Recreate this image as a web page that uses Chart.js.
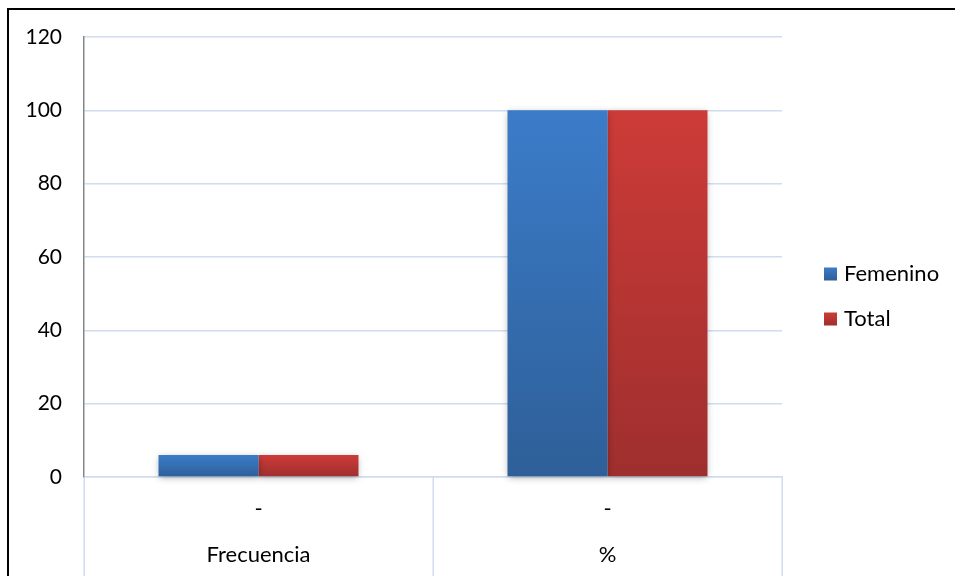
<!DOCTYPE html>
<html>
<head>
<meta charset="utf-8">
<script src="https://cdn.jsdelivr.net/npm/chart.js@4.4.1/dist/chart.umd.min.js"></script>
<style>
  html, body { margin: 0; padding: 0; background: #fff; }
  #wrap { width: 955px; height: 576px; position: relative; }
</style>
</head>
<body>
<div id="wrap"><canvas id="c" width="955" height="576"></canvas></div>
<script>
// Data
const categories = ['Frecuencia', '%'];
const subLabels = ['-', '-'];
const seriesNames = ['Femenino', 'Total'];
const femenino = [6, 100];
const total = [6, 100];
const yMin = 0, yMax = 120, yStep = 20;

// Styling
const FONT = 'Lato, "Open Sans", sans-serif';
const GRID = '#d0dcef';
const blueTop = '#3b7cc9', blueBottom = '#2e5f98';
const redTop = '#cd3b38', redBottom = '#9e2f2e';

// vertical gradient spanning each bar from its value down to zero
function barGradient(top, bottom) {
  return (ctx) => {
    const chart = ctx.chart;
    if (!chart.chartArea || ctx.type !== 'data') return top;
    const ys = chart.scales.y;
    const y0 = ys.getPixelForValue(ctx.raw);
    const y1 = ys.getPixelForValue(0);
    const g = chart.ctx.createLinearGradient(0, y0, 0, y1);
    g.addColorStop(0, top);
    g.addColorStop(1, bottom);
    return g;
  };
}

// outer frame of the chart box
const frame = {
  id: 'frame',
  beforeDraw(chart) {
    const c = chart.ctx;
    c.save();
    c.fillStyle = '#fff';
    c.fillRect(0, 0, chart.width, chart.height);
    c.strokeStyle = '#000';
    c.lineWidth = 2;
    c.beginPath();
    c.moveTo(8, chart.height);
    c.lineTo(8, 9);
    c.lineTo(chart.width, 9);
    c.stroke();
    c.restore();
  }
};

// soft drop shadow under the bars
const barShadow = {
  id: 'barShadow',
  beforeDatasetsDraw(chart) {
    const c = chart.ctx;
    c.save();
    c.shadowColor = 'rgba(0,0,0,0.32)';
    c.shadowBlur = 7;
    c.shadowOffsetX = 0;
    c.shadowOffsetY = 2;
  },
  afterDatasetsDraw(chart) {
    chart.ctx.restore();
  }
};

// category separators running down through the label rows
const categoryDividers = {
  id: 'categoryDividers',
  afterDraw(chart) {
    const c = chart.ctx;
    const area = chart.chartArea;
    const n = chart.data.labels.length;
    const step = (area.right - area.left) / n;
    c.save();
    c.strokeStyle = GRID;
    c.lineWidth = 1.5;
    c.beginPath();
    for (let i = 0; i <= n; i++) {
      const x = Math.round(area.left + i * step) + 0.25;
      c.moveTo(x, area.bottom);
      c.lineTo(x, chart.height);
    }
    c.stroke();
    c.restore();
  }
};

// legend on the right
const sideLegend = {
  id: 'sideLegend',
  afterDraw(chart) {
    const c = chart.ctx;
    const area = chart.chartArea;
    const x0 = area.right + 42;
    const yFirst = area.bottom - 203;
    c.save();
    c.font = '22px ' + FONT;
    c.textBaseline = 'middle';
    c.textAlign = 'left';
    chart.data.datasets.forEach((ds, i) => {
      const yc = yFirst + i * 45;
      const g = c.createLinearGradient(0, yc - 6.5, 0, yc + 6.5);
      g.addColorStop(0, ds.legendTop);
      g.addColorStop(1, ds.legendBottom);
      c.fillStyle = g;
      c.fillRect(x0, yc - 6.5, 13, 13);
      c.fillStyle = '#000';
      c.fillText(ds.label, x0 + 20, yc);
    });
    c.restore();
  }
};

const chart = new Chart(document.getElementById('c'), {
  type: 'bar',
  data: {
    labels: categories.map((c, i) => [subLabels[i], c]),
    datasets: [
      {
        label: seriesNames[0],
        data: femenino,
        backgroundColor: barGradient(blueTop, blueBottom),
        legendTop: blueTop, legendBottom: blueBottom,
        borderWidth: 0,
        clip: false
      },
      {
        label: seriesNames[1],
        data: total,
        backgroundColor: barGradient(redTop, redBottom),
        legendTop: redTop, legendBottom: redBottom,
        borderWidth: 0,
        clip: false
      }
    ]
  },
  options: {
    responsive: false,
    animation: false,
    events: [],
    layout: { padding: { top: 37, right: 173, left: 0, bottom: 0 } },
    datasets: { bar: { categoryPercentage: 0.573, barPercentage: 1 } },
    plugins: {
      legend: { display: false },
      tooltip: { enabled: false }
    },
    scales: {
      x: {
        grid: { display: false, drawTicks: false },
        border: { display: true, color: GRID, width: 1.5 },
        ticks: {
          color: '#000',
          font: { family: FONT, size: 22, lineHeight: '46px' },
          padding: 9,
          maxRotation: 0,
          autoSkip: false
        },
        afterFit(s) { s.height = 99; }
      },
      y: {
        min: yMin,
        max: yMax,
        ticks: {
          stepSize: yStep,
          color: '#000',
          font: { family: FONT, size: 21 },
          padding: 22
        },
        grid: { color: GRID, lineWidth: 1.5, drawTicks: false },
        border: { display: true, color: '#868686', width: 1.5 },
        afterFit(s) { s.width = 84; }
      }
    }
  },
  plugins: [frame, barShadow, categoryDividers, sideLegend]
});
</script>
</body>
</html>
